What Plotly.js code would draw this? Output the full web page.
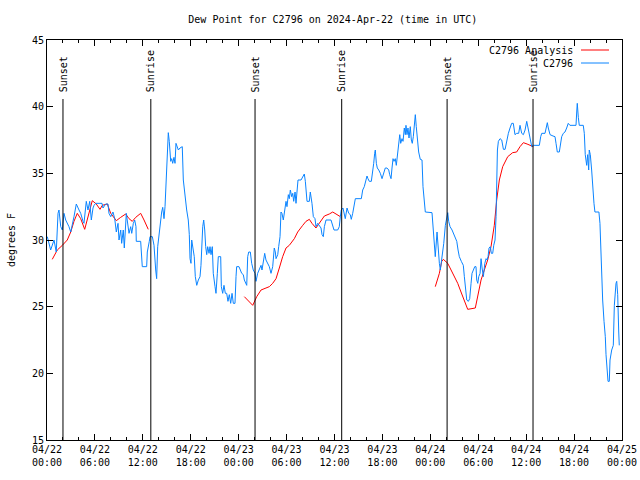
<!DOCTYPE html>
<html>
<head>
<meta charset="utf-8">
<script src="https://cdn.plot.ly/plotly-3.0.1.min.js"></script>
<style>html,body{margin:0;padding:0;background:#fff;}#chart{width:640px;height:480px;}</style>
</head>
<body>
<div id="chart"></div>
<script>
// Hours since 2024-04-22 00:00 UTC
var obsHours = [0.04,0.46,0.88,1.16,1.38,1.50,1.72,1.92,2.13,2.34,2.75,2.97,3.38,3.67,4.01,4.22,4.51,4.63,4.92,5.13,5.35,5.55,5.76,5.89,6.10,6.89,7.01,7.35,7.64,7.76,7.98,8.26,8.48,8.68,8.89,9.02,9.23,9.35,9.55,9.68,9.93,10.05,10.27,10.48,10.61,10.81,10.98,11.14,11.18,11.73,11.86,11.93,12.48,12.56,12.81,12.90,13.19,13.40,13.61,13.73,13.86,14.02,14.24,14.36,14.49,14.65,14.78,14.90,14.99,15.11,15.19,15.31,15.49,15.61,15.74,15.90,16.03,16.15,16.32,16.45,16.65,16.94,17.07,17.28,17.49,17.69,17.82,17.91,18.03,18.12,18.24,18.32,18.44,18.57,18.75,18.95,19.16,19.28,19.37,19.50,19.62,19.75,19.87,20.00,20.12,20.29,20.41,20.54,20.70,20.82,21.04,21.16,21.33,21.45,21.75,21.83,22.00,22.16,22.33,22.50,22.66,22.83,23.00,23.17,23.33,23.54,23.67,23.75,24.04,24.38,24.58,24.71,25.01,25.13,25.26,25.46,25.63,25.83,26.05,26.17,26.38,26.58,26.80,26.92,27.09,27.26,27.42,27.64,27.84,28.05,28.26,28.46,28.59,28.68,28.89,29.01,29.18,29.30,29.42,29.59,29.76,29.93,30.05,30.22,30.34,30.47,30.64,30.77,30.89,31.06,31.18,31.31,31.43,31.81,32.02,32.22,32.35,32.43,32.56,32.85,32.97,33.18,33.35,33.56,33.68,33.90,34.10,34.31,34.44,34.60,34.73,34.94,35.56,35.78,35.94,36.40,36.60,36.73,36.85,37.06,37.19,37.35,37.57,37.78,37.98,38.10,38.28,38.41,38.61,39.36,39.53,39.73,39.98,40.07,40.19,40.36,40.61,40.78,40.91,41.03,41.11,41.24,41.36,41.54,41.74,41.95,42.16,42.36,42.57,42.79,42.91,43.08,43.20,43.33,43.45,43.61,43.74,43.91,44.04,44.17,44.29,44.45,44.58,44.74,44.87,44.95,45.08,45.20,45.33,45.49,45.62,45.74,45.87,45.99,46.12,46.24,46.37,46.54,46.74,46.96,47.08,47.25,47.37,48.21,48.30,48.50,48.62,48.84,48.96,49.05,49.13,49.25,49.43,49.68,49.88,50.05,50.18,50.30,50.47,50.72,50.89,51.13,51.31,51.47,51.63,51.88,52.13,52.26,52.38,52.56,52.76,52.93,53.10,53.22,53.39,53.56,53.72,53.81,53.94,54.06,54.23,54.35,54.48,54.64,54.82,54.98,55.10,55.23,55.35,55.51,55.64,55.81,55.94,56.10,56.23,56.31,56.40,56.52,56.73,56.94,57.15,57.36,57.57,57.77,57.98,58.19,58.39,58.60,58.81,59.06,59.23,59.44,59.65,59.86,60.07,60.27,60.52,60.70,60.90,61.65,61.82,61.95,62.36,62.49,62.65,62.77,62.99,63.36,63.61,63.74,63.90,64.15,64.32,64.45,64.65,64.86,65.07,65.27,65.48,66.24,66.33,66.40,66.53,66.65,67.15,67.28,67.40,67.58,67.70,67.83,67.90,68.03,68.20,68.33,68.49,68.61,69.11,69.24,69.33,69.46,69.58,69.75,69.91,70.00,70.16,70.25,70.41,70.50,70.71,70.91,71.04,71.13,71.25,71.34,71.46,71.59,71.66];
var obsDew = [30.25,29.25,30.0,29.1,32.0,32.25,31.0,30.75,32.0,31.5,31.0,30.6,31.75,32.7,32.25,32.0,31.4,31.25,32.9,32.25,32.9,31.5,32.4,32.6,32.75,32.75,32.4,32.7,32.7,32.0,31.75,32.1,31.6,30.6,31.25,30.0,30.75,29.75,30.75,29.4,32.0,31.5,30.5,31.0,30.5,31.25,31.5,31.0,29.9,29.9,28.5,28.0,28.0,29.1,29.9,30.25,30.25,29.6,27.75,27.1,29.5,30.4,31.1,32.1,32.45,31.6,32.5,34.0,35.75,37.25,38.05,37.4,35.9,36.1,35.75,36.2,35.75,37.25,37.0,36.75,36.9,37.0,34.5,33.25,32.25,31.5,30.4,28.6,28.25,30.0,29.5,28.9,28.75,27.25,26.6,27.0,27.25,28.1,29.75,31.0,31.5,30.75,29.5,28.9,29.5,29.0,29.5,28.9,29.5,27.5,26.5,26.0,27.5,28.75,28.75,26.5,26.0,26.6,26.0,26.0,25.4,25.9,25.25,26.0,25.25,25.25,27.25,28.0,28.0,27.5,27.4,27.0,26.6,28.75,29.1,29.1,28.25,27.75,27.5,26.9,27.5,27.75,28.1,27.75,28.4,29.0,28.5,28.25,28.0,27.5,28.0,29.4,29.1,28.6,28.9,29.5,30.25,32.1,32.0,31.5,32.25,32.9,32.5,33.4,33.1,33.75,33.25,33.5,32.9,33.6,32.75,33.5,34.5,34.5,34.75,34.95,34.4,33.5,32.9,32.9,33.6,32.75,31.75,31.6,31.0,31.25,31.1,30.9,30.4,30.25,31.0,31.5,31.5,31.0,30.75,30.75,31.0,31.75,32.25,32.4,32.1,31.6,32.4,32.0,31.9,31.55,32.0,32.5,33.1,33.1,33.75,34.0,34.5,34.8,34.6,34.4,34.4,35.0,35.75,36.5,36.75,35.75,35.4,35.25,35.0,34.6,35.1,35.4,35.4,35.25,34.9,34.6,35.4,36.1,35.9,36.1,35.6,36.5,37.5,37.9,37.25,37.6,37.4,38.4,37.9,38.6,37.9,38.4,37.65,38.5,37.5,37.25,37.75,38.75,39.4,38.5,37.4,36.6,36.05,36.0,34.0,33.0,32.1,32.05,31.25,29.0,28.75,30.6,29.75,28.5,28.25,27.75,28.5,29.75,31.1,31.75,32.05,31.4,31.0,30.75,30.5,30.25,29.9,29.25,28.75,28.4,28.1,27.25,26.25,25.5,25.4,25.6,26.75,27.5,27.75,28.0,28.0,27.0,26.75,27.25,27.5,28.6,27.9,27.25,28.25,28.6,28.5,28.75,29.4,29.5,29.0,29.0,29.6,30.0,31.75,34.25,36.75,37.4,37.6,37.5,36.8,36.8,37.5,38.0,38.4,38.75,38.75,37.9,38.0,38.0,38.6,38.0,37.9,38.25,38.9,38.25,37.6,37.0,37.1,37.1,37.75,38.0,38.0,38.5,38.8,38.4,37.9,37.8,37.75,37.25,36.6,36.6,37.4,37.75,38.0,38.1,38.4,38.75,38.6,38.6,39.6,40.25,39.2,38.6,38.6,38.0,36.4,35.6,36.4,35.25,36.75,36.4,35.25,33.75,32.75,32.1,32.1,31.25,29.25,27.4,25.5,23.9,22.75,21.4,20.0,19.4,19.4,21.0,21.75,22.1,25.1,26.25,26.75,26.9,25.9,23.1,22.1];

// Analysis series (null = gap between analysis runs)
var anaHours = [0.66,1.29,1.92,2.54,2.97,3.38,3.79,4.22,4.72,5.26,5.67,6.17,6.64,6.92,7.55,7.98,8.68,9.23,9.85,10.27,10.68,11.11,11.73,12.15,12.68,
  18.0,
  24.71,25.76,26.26,26.80,27.42,27.84,28.26,28.68,29.09,29.51,29.93,30.34,30.97,31.39,32.02,32.43,32.85,33.18,33.68,34.31,34.73,35.35,35.78,36.19,36.73,
  42.0,
  48.62,49.13,49.43,49.63,50.18,50.80,51.43,51.84,52.26,52.68,53.63,53.93,54.35,54.76,55.18,55.60,56.01,56.31,56.64,57.06,57.69,58.31,58.81,59.23,59.65,60.11,60.90];
var anaDew = [28.55,29.25,29.6,30.0,30.6,31.4,32.0,31.6,30.8,32.0,32.95,32.7,32.3,32.6,32.7,32.0,31.45,31.7,31.95,31.6,31.4,31.7,32.0,31.5,30.8,
  null,
  25.75,25.1,25.75,26.25,26.4,26.5,26.75,27.1,27.9,28.75,29.4,29.6,30.1,30.6,31.1,31.4,31.55,31.25,30.9,31.4,31.8,31.95,32.1,31.95,31.75,
  null,
  26.5,27.5,28.4,28.55,28.25,27.5,26.75,26.1,25.4,24.8,24.9,25.75,27.0,27.75,28.5,29.5,31.1,33.0,34.5,35.5,36.25,36.55,36.6,37.0,37.3,37.2,37.0];

var sunHours = [2.0, 13.0, 26.05, 36.9, 50.1, 60.86];
var sunLabels = ["Sunset","Sunrise","Sunset","Sunrise","Sunset","Sunrise"];

var tickHours = [0,6,12,18,24,30,36,42,48,54,60,66,72];
var tickLabels = ["04/22<br>00:00","04/22<br>06:00","04/22<br>12:00","04/22<br>18:00","04/23<br>00:00","04/23<br>06:00","04/23<br>12:00","04/23<br>18:00","04/24<br>00:00","04/24<br>06:00","04/24<br>12:00","04/24<br>18:00","04/25<br>00:00"];

var seriesNames = ["C2796 Analysis","C2796"];
var seriesColors = ["#ff0000","#0a84ff"];

var BASE = Date.UTC(2024,3,22,0,0,0);
function toDate(h){
  var d = new Date(BASE + Math.round(h*3600000));
  return d.toISOString().slice(0,19).replace('T',' ');
}

var FONT = "DejaVu Sans Mono";

var traces = [
  {x: anaHours.map(toDate), y: anaDew, type:'scatter', mode:'lines', name: seriesNames[0],
   line:{color:seriesColors[0], width:1}, connectgaps:false, showlegend:false},
  {x: obsHours.map(toDate), y: obsDew, type:'scatter', mode:'lines', name: seriesNames[1],
   line:{color:seriesColors[1], width:1, shape:'linear'}, showlegend:false}
];

var shapes = [];
var annotations = [];
sunHours.forEach(function(h,i){
  shapes.push({type:'line', xref:'x', yref:'paper', x0:toDate(h), x1:toDate(h), y0:0, y1:0.8525,
    line:{color:'#000', width:1}});
  annotations.push({xref:'x', yref:'paper', x:toDate(h), y:0.864, text:sunLabels[i], textangle:-90,
    showarrow:false, xanchor:'center', yanchor:'bottom', font:{family:FONT, size:10, color:'#000'}});
});

// legend (gnuplot style: text then sample line)
var legY = [0.975, 0.9425];
for (var i=0;i<2;i++){
  annotations.push({xref:'paper', yref:'paper', x:0.9175, y:legY[i], text:seriesNames[i], showarrow:false,
    xanchor:'right', yanchor:'middle', font:{family:FONT, size:10, color:'#000'}});
  shapes.push({type:'line', xref:'paper', yref:'paper', x0:0.9287, x1:0.9774, y0:legY[i], y1:legY[i],
    line:{color:seriesColors[i], width:1}});
}

var layout = {
  width:640, height:480,
  margin:{l:47, r:18, t:40, b:40, pad:0},
  paper_bgcolor:'#fff', plot_bgcolor:'#fff',
  title:{text:'Dew Point for C2796 on 2024-Apr-22 (time in UTC)', font:{family:FONT, size:10, color:'#000'},
    x:0.52, xanchor:'center', y:0.96, yanchor:'middle'},
  font:{family:FONT, size:10, color:'#000'},
  xaxis:{type:'date', range:[toDate(0), toDate(72)], tickmode:'array',
    tickvals:tickHours.map(toDate), ticktext:tickLabels,
    ticks:'inside', ticklen:6, tickcolor:'#000', showline:true, linecolor:'#000', linewidth:1,
    mirror:'ticks', showgrid:false, zeroline:false, tickfont:{family:FONT, size:10},
    minor:{tickmode:'linear', tick0:toDate(0), dtick:7200000, ticks:'inside', ticklen:3, tickcolor:'#000', showgrid:false}},
  yaxis:{range:[15,45], dtick:5, tick0:15, ticks:'inside', ticklen:6, tickcolor:'#000',
    showline:true, linecolor:'#000', linewidth:1, mirror:'ticks', showgrid:false, zeroline:false,
    tickfont:{family:FONT, size:10},
    title:{text:'degrees F', font:{family:FONT, size:10}, standoff:14}},
  shapes:shapes,
  annotations:annotations,
  showlegend:false
};

Plotly.newPlot('chart', traces, layout, {staticPlot:true, displayModeBar:false});
</script>
</body>
</html>
